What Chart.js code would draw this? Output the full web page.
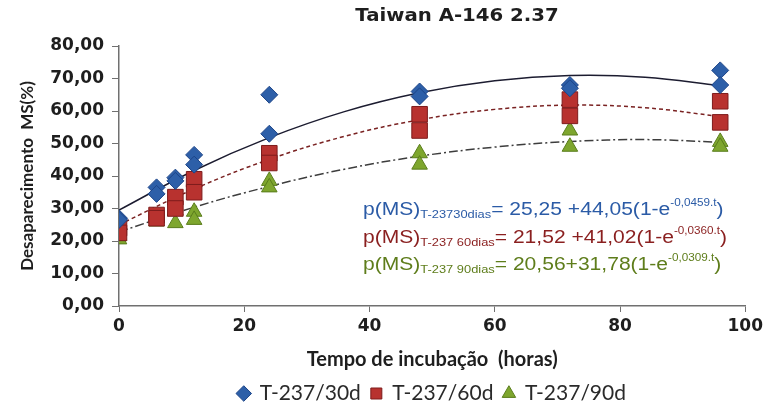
<!DOCTYPE html>
<html>
<head>
<meta charset="utf-8">
<script src="https://cdn.jsdelivr.net/npm/chart.js@4.4.1/dist/chart.umd.min.js"></script>
<style>
  html, body { margin: 0; padding: 0; background: #fff; }
  #wrap { width: 767px; height: 406px; }
</style>
</head>
<body>
<div id="wrap"><canvas id="rumenChart"></canvas></div>
<script>
// incubation times (hours)
var hours = [0, 6, 9, 12, 24, 48, 72, 96];

// observed disappearance MS (%), two replicates per time
var t30a = [27.0, 36.5, 39.5, 46.5, 65.0, 66.0, 68.0, 72.5];
var t30b = [26.5, 34.5, 38.5, 43.5, 53.0, 64.5, 67.0, 68.0];
var t60a = [24.0, 28.0, 33.5, 39.0, 47.0, 59.0, 63.5, 63.0];
var t60b = [22.5, 27.0, 30.0, 35.0, 44.0, 54.0, 58.5, 56.5];
var t90a = [21.5, 27.0, 29.5, 29.0, 38.5, 47.0, 54.0, 50.5];
var t90b = [20.5, 26.0, 25.5, 26.5, 36.5, 43.5, 49.0, 49.0];

// trend lines
var trendHours = [0, 12, 24, 36, 48, 60, 72, 84, 96];
var trend30 = [29.5, 41.7, 51.8, 59.8, 65.6, 69.3, 70.9, 70.4, 67.8];
var trend60 = [25.0, 36.0, 45.1, 52.2, 57.3, 60.5, 61.8, 61.0, 58.3];
var trend90 = [22.8, 30.4, 36.8, 42.1, 46.1, 48.9, 50.6, 51.2, 50.4];

var seriesNames = ["T-237/30d", "T-237/60d", "T-237/90d"];
var yTicks = [0, 10, 20, 30, 40, 50, 60, 70, 80];

// equation text: [main, subscript, main, superscript, main]
var equations = [
  ["p(MS)", "T-23730dias", "= 25,25 +44,05(1-e", "-0,0459.t", ")"],
  ["p(MS)", "T-237 60dias", "= 21,52 +41,02(1-e", "-0,0360.t", ")"],
  ["p(MS)", "T-237 90dias", "= 20,56+31,78(1-e", "-0,0309.t", ")"]
];
var eqColors = ["#2b5ba6", "#8a1f1f", "#5e7d1b"];

function pts(xs, a, b) {
  var out = [];
  xs.forEach(function (x, i) { out.push({x: x, y: a[i]}); });
  if (b) xs.forEach(function (x, i) { out.push({x: x, y: b[i]}); });
  return out;
}

var extraText = {
  id: 'extraText',
  afterDraw: function (chart) {
    var ctx = chart.ctx;
    ctx.save();
    // title (source text is a bit stretched horizontally)
    ctx.fillStyle = '#1e1e1e';
    ctx.font = 'bold 17px "DejaVu Sans"';
    ctx.textAlign = 'center';
    ctx.textBaseline = 'middle';
    ctx.translate(457, 17);
    ctx.scale(1.16, 1);
    ctx.fillText('Taiwan A-146 2.37', 0, 0);
    ctx.restore();

    // equations
    var baseY = [215, 243, 270];
    equations.forEach(function (eq, i) {
      ctx.save();
      ctx.translate(363, baseY[i]);
      ctx.scale(1.17, 1);
      ctx.textAlign = 'left';
      ctx.textBaseline = 'alphabetic';
      ctx.fillStyle = eqColors[i];
      var x = 0;
      eq.forEach(function (part, j) {
        var dy = 0;
        if (j === 1) { ctx.font = '11px "Liberation Sans"'; dy = 3; }
        else if (j === 3) { ctx.font = '10px "Liberation Sans"'; dy = -9; }
        else { ctx.font = '18px "Liberation Sans"'; }
        ctx.fillText(part, x, dy);
        x += ctx.measureText(part).width;
      });
      ctx.restore();
    });
  }
};

new Chart(document.getElementById("rumenChart"), {
  type: 'scatter',
  data: {
    datasets: [
      {
        label: seriesNames[0],
        data: pts(hours, t30a, t30b),
        pointStyle: 'rectRot',
        pointRadius: 8.5,
        backgroundColor: '#2d5fa8',
        borderColor: '#1d4588',
        borderWidth: 1,
        order: 0
      },
      {
        label: seriesNames[1],
        data: pts(hours, t60a, t60b),
        pointStyle: 'rect',
        pointRadius: 11,
        backgroundColor: '#b8322f',
        borderColor: '#7e1c1c',
        borderWidth: 1,
        order: 0
      },
      {
        label: seriesNames[2],
        data: pts(hours, t90a, t90b),
        pointStyle: 'triangle',
        pointRadius: 9,
        backgroundColor: '#7ea62e',
        borderColor: '#5a7d1c',
        borderWidth: 1,
        order: 0
      },
      {
        label: 'trend30',
        data: pts(trendHours, trend30),
        showLine: true,
        tension: 0.4,
        pointRadius: 0,
        borderColor: '#1c1c30',
        borderWidth: 1.5,
        order: 1
      },
      {
        label: 'trend60',
        data: pts(trendHours, trend60),
        showLine: true,
        tension: 0.4,
        pointRadius: 0,
        borderColor: '#7a2222',
        borderWidth: 1.5,
        borderDash: [4, 3],
        order: 1
      },
      {
        label: 'trend90',
        data: pts(trendHours, trend90),
        showLine: true,
        tension: 0.4,
        pointRadius: 0,
        borderColor: '#3d3d3d',
        borderWidth: 1.5,
        borderDash: [9, 3, 2, 3],
        order: 1
      }
    ]
  },
  options: {
    responsive: true,
    maintainAspectRatio: false,
    animation: false,
    layout: { padding: { top: 46, right: 5, bottom: -8, left: 0 } },
    plugins: {
      tooltip: { enabled: false },
      title: { display: false },
      legend: {
        position: 'bottom',
        fullSize: false,
        labels: {
          usePointStyle: true,
          boxWidth: 11,
          boxHeight: 11,
          padding: 10,
          color: '#2a2a2a',
          font: { family: 'Lato', size: 21 },
          filter: function (item) { return item.datasetIndex < 3; }
        }
      }
    },
    scales: {
      x: {
        type: 'linear',
        min: 0,
        max: 100,
        ticks: {
          stepSize: 20,
          padding: 4,
          color: '#1e1e1e',
          font: { family: 'DejaVu Sans', size: 17, weight: 'bold' }
        },
        grid: { drawOnChartArea: false, drawTicks: true, tickLength: 6, color: '#707070' },
        border: { color: '#707070', width: 1.5 },
        title: {
          display: true,
          text: 'Tempo de incubação  (horas)',
          color: '#1e1e1e',
          font: { family: 'Lato', size: 20, weight: 'bold' },
          padding: { top: 0, bottom: 1 }
        },
        afterFit: function (s) { s.height = 67; }
      },
      y: {
        min: 0,
        max: 80,
        afterBuildTicks: function (s) { s.ticks = yTicks.map(function (v) { return {value: v}; }); },
        ticks: {
          padding: 8,
          color: '#1e1e1e',
          font: { family: 'DejaVu Sans', size: 17, weight: 'bold' },
          callback: function (v) { return v.toFixed(2).replace('.', ','); }
        },
        grid: { drawOnChartArea: false, drawTicks: true, tickLength: 7, color: '#707070' },
        border: { color: '#707070', width: 1.5 },
        title: {
          display: true,
          text: 'Desaparecimento  MS(%)',
          color: '#1e1e1e',
          font: { family: 'Lato', size: 17, weight: 'bold' },
          padding: { top: 17, bottom: 0 }
        },
        afterFit: function (s) { s.width = 119; }
      }
    }
  },
  plugins: [extraText]
});
</script>
</body>
</html>
